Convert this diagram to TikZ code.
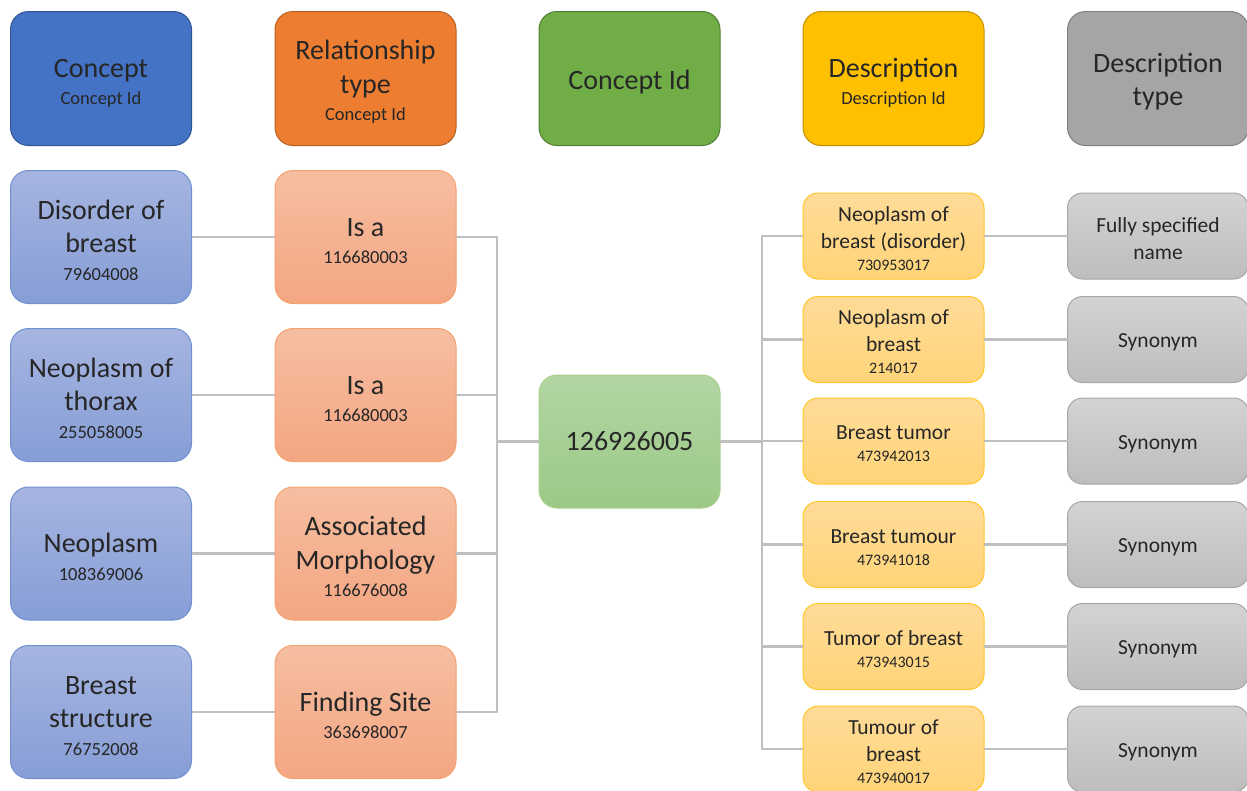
\documentclass[tikz,border=0pt]{standalone}
\usepackage{fontspec}
\setmainfont{Carlito}
\definecolor{txt}{HTML}{262626}
\definecolor{conncol}{HTML}{BFBFBF}
% header fills / borders
\definecolor{hBlue}{HTML}{4472C4}\definecolor{hBlueD}{HTML}{2F5597}
\definecolor{hOrange}{HTML}{ED7D31}\definecolor{hOrangeD}{HTML}{B85F22}
\definecolor{hGreen}{HTML}{70AD47}\definecolor{hGreenD}{HTML}{507E32}
\definecolor{hGold}{HTML}{FFC000}\definecolor{hGoldD}{HTML}{BF9000}
\definecolor{hGray}{HTML}{A5A5A5}\definecolor{hGrayD}{HTML}{7F7F7F}
% light entry fills
\definecolor{bTop}{HTML}{A6B5E0}\definecolor{bBot}{HTML}{869DD6}\definecolor{bLine}{HTML}{7090D2}
\definecolor{oTop}{HTML}{F6BEA1}\definecolor{oBot}{HTML}{F4A682}\definecolor{oLine}{HTML}{F4A26E}
\definecolor{gTop}{HTML}{B2D5A2}\definecolor{gBot}{HTML}{9CC987}\definecolor{gLine}{HTML}{A8D08D}
\definecolor{yTop}{HTML}{FFDB98}\definecolor{yBot}{HTML}{FFD478}\definecolor{yLine}{HTML}{FFC72C}
\definecolor{sTop}{HTML}{D3D3D3}\definecolor{sBot}{HTML}{BDBDBD}\definecolor{sLine}{HTML}{A6A6A6}
\newcommand{\idnum}[1]{{\fontsize{18.5}{18.5}\selectfont #1}}
\newcommand{\idsmall}[1]{{\fontsize{16}{16}\selectfont #1}}
% tall struts that push the text block slightly down inside its box
\newcommand{\hdstrut}{\rule{0pt}{26pt}}
\newcommand{\dsstrut}{\rule{0pt}{19.5pt}}
\begin{document}
\begin{tikzpicture}[x=1pt,y=-1pt,
  box/.style={rounded corners=18pt, minimum width=181pt, minimum height=133pt,
    inner sep=0pt, outer sep=0pt, align=center, text=txt, line width=1pt,
    font=\fontsize{28}{33.5}\selectfont},
  head/.style={box, minimum height=134pt},
  concept/.style={box, draw=bLine, top color=bTop, bottom color=bBot},
  reltype/.style={box, draw=oLine, top color=oTop, bottom color=oBot},
  centre/.style={box, draw=gLine, top color=gTop, bottom color=gBot},
  descr/.style={box, rounded corners=15pt, minimum height=86pt,
    draw=yLine, top color=yTop, bottom color=yBot,
    font=\fontsize{21.5}{27}\selectfont},
  dtype/.style={descr, draw=sLine, top color=sTop, bottom color=sBot},
  conn/.style={draw=conncol, line width=2.5pt}]
\useasboundingbox (0,0) rectangle (1247,790);

% column headers
\node[head, draw=hBlueD, fill=hBlue] (hC) at (101,78.5) {\rule{0pt}{28pt}Concept\\[-6pt]\idnum{Concept Id}};
\node[head, draw=hOrangeD, fill=hOrange] (hR) at (365.5,78.5) {\hdstrut Relationship\\type\\[-6pt]\idnum{Concept Id}};
\node[head, draw=hGreenD, fill=hGreen] (hG) at (629.5,78.5) {\hdstrut Concept Id};
\node[head, draw=hGoldD, fill=hGold] (hD) at (893.5,78.5) {\rule{0pt}{28pt}Description\\[-6pt]\idnum{Description Id}};
\node[head, draw=hGrayD, fill=hGray] (hT) at (1158,78.5) {\hdstrut Description\\type};

% source concepts
\node[concept] (c1) at (101,237) {\hdstrut Disorder of\\breast\\[-6pt]\idnum{79604008}};
\node[concept] (c2) at (101,395) {\hdstrut Neoplasm of\\thorax\\[-6pt]\idnum{255058005}};
\node[concept] (c3) at (101,553.5) {\hdstrut Neoplasm\\[-6pt]\idnum{108369006}};
\node[concept] (c4) at (101,712) {\hdstrut Breast\\structure\\[-6pt]\idnum{76752008}};

% relationship types
\node[reltype] (r1) at (365.5,237) {\hdstrut Is a\\[-6pt]\idnum{116680003}};
\node[reltype] (r2) at (365.5,395) {\hdstrut Is a\\[-6pt]\idnum{116680003}};
\node[reltype] (r3) at (365.5,553.5) {\hdstrut Associated\\Morphology\\[-6pt]\idnum{116676008}};
\node[reltype] (r4) at (365.5,712) {\hdstrut Finding Site\\[-6pt]\idnum{363698007}};

% central concept
\node[centre] (g) at (629.5,441.5) {126926005};

% descriptions
\node[descr] (d1) at (893.5,236) {\dsstrut Neoplasm of\\breast (disorder)\\[-5pt]\idsmall{730953017}};
\node[descr] (d2) at (893.5,339.5) {\dsstrut Neoplasm of\\breast\\[-5pt]\idsmall{214017}};
\node[descr] (d3) at (893.5,441) {\dsstrut Breast tumor\\[-5pt]\idsmall{473942013}};
\node[descr] (d4) at (893.5,544.5) {\dsstrut Breast tumour\\[-5pt]\idsmall{473941018}};
\node[descr] (d5) at (893.5,646.5) {\dsstrut Tumor of breast\\[-5pt]\idsmall{473943015}};
\node[descr] (d6) at (893.5,749) {\dsstrut Tumour of\\breast\\[-5pt]\idsmall{473940017}};

% description types
\node[dtype] (t1) at (1158,236) {\dsstrut Fully specified\\name};
\node[dtype] (t2) at (1158,339.5) {\dsstrut Synonym};
\node[dtype] (t3) at (1158,441) {\dsstrut Synonym};
\node[dtype] (t4) at (1158,544.5) {\dsstrut Synonym};
\node[dtype] (t5) at (1158,646.5) {\dsstrut Synonym};
\node[dtype] (t6) at (1158,749) {\dsstrut Synonym};

% junction points of the two trunks
\coordinate (jL) at (497,441.5);
\coordinate (jR) at (762,441.5);

% concept -> relationship type
\foreach \i in {1,...,4} {
  \draw[conn] (c\i) -- (r\i);
  \draw[conn] (r\i.east) -| (jL);
}
\draw[conn] (jL) -- (g);
\draw[conn] (g) -- (jR);

% central concept -> descriptions -> description types
\foreach \i in {1,...,6} {
  \draw[conn] (jR) |- (d\i.west);
  \draw[conn] (d\i) -- (t\i);
}
\end{tikzpicture}
\end{document}
